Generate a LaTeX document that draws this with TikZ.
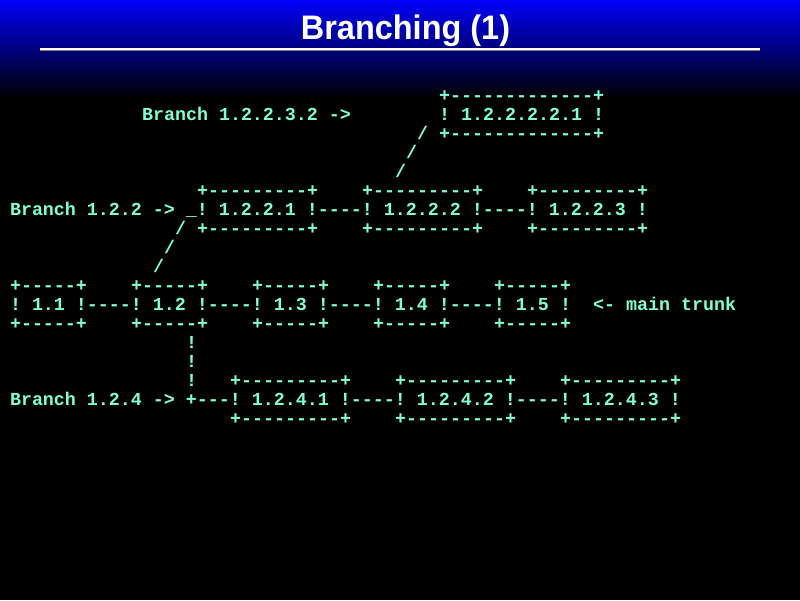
\documentclass[tikz,border=0pt]{standalone}
\usepackage{fontspec}
\setmonofont{Liberation Mono}
\newfontfamily\titlefont{Liberation Sans}
\definecolor{ascfg}{RGB}{127,255,212}
\definecolor{topblue}{RGB}{0,0,250}
\newcommand\ascseg[4]{\node[ascii] (#1) at ({10+11*#3},{-101-19*#2}) {#4};}
\begin{document}
\begin{tikzpicture}[x=1pt,y=1pt,
  ascii/.style={anchor=base west, inner sep=0pt, outer sep=0pt, text=ascfg,
    font=\ttfamily\bfseries\fontsize{18.333pt}{19pt}\selectfont}]
\useasboundingbox (0,0) rectangle (800,-600);
\fill[black] (0,0) rectangle (800,-600);
\shade[top color=topblue, bottom color=black] (0,0) rectangle (800,-98);
\node[text=white, inner sep=0pt, anchor=base,
  font=\titlefont\bfseries\fontsize{34pt}{34pt}\selectfont] (title) at (405.5,-39.5)
  {\scalebox{0.955}[1]{Branching (1)}};
\coordinate (ruleL) at (40,-49);
\coordinate (ruleR) at (760,-49);
\draw[white, line width=1.2pt] (ruleL) -- (ruleR);
\draw[gray, line width=0.8pt] ([yshift=-1.2pt]ruleL) -- ([yshift=-1.2pt]ruleR);
% row 0-4
\ascseg{a0}{0}{39}{+-------------+}
\ascseg{b1}{1}{12}{Branch 1.2.2.3.2 ->}
\ascseg{a1}{1}{39}{! 1.2.2.2.2.1 !}
\ascseg{s2}{2}{37}{/}
\ascseg{a2}{2}{39}{+-------------+}
\ascseg{s3}{3}{36}{/}
\ascseg{s4}{4}{35}{/}
% rows 5-9
\ascseg{c5a}{5}{17}{+---------+}
\ascseg{c5b}{5}{32}{+---------+}
\ascseg{c5c}{5}{47}{+---------+}
\ascseg{r6}{6}{0}{Branch 1.2.2 -> \_! 1.2.2.1 !----! 1.2.2.2 !----! 1.2.2.3 !}
\ascseg{s7}{7}{15}{/}
\ascseg{c7a}{7}{17}{+---------+}
\ascseg{c7b}{7}{32}{+---------+}
\ascseg{c7c}{7}{47}{+---------+}
\ascseg{s8}{8}{14}{/}
\ascseg{s9}{9}{13}{/}
% rows 10-12 main trunk
\ascseg{m10a}{10}{0}{+-----+}
\ascseg{m10b}{10}{11}{+-----+}
\ascseg{m10c}{10}{22}{+-----+}
\ascseg{m10d}{10}{33}{+-----+}
\ascseg{m10e}{10}{44}{+-----+}
\ascseg{r11}{11}{0}{! 1.1 !----! 1.2 !----! 1.3 !----! 1.4 !----! 1.5 !}
\ascseg{mt}{11}{53}{<- main trunk}
\ascseg{m12a}{12}{0}{+-----+}
\ascseg{m12b}{12}{11}{+-----+}
\ascseg{m12c}{12}{22}{+-----+}
\ascseg{m12d}{12}{33}{+-----+}
\ascseg{m12e}{12}{44}{+-----+}
% rows 13-17
\ascseg{v13}{13}{16}{!}
\ascseg{v14}{14}{16}{!}
\ascseg{v15}{15}{16}{!}
\ascseg{d15a}{15}{20}{+---------+}
\ascseg{d15b}{15}{35}{+---------+}
\ascseg{d15c}{15}{50}{+---------+}
\ascseg{r16}{16}{0}{Branch 1.2.4 -> +---! 1.2.4.1 !----! 1.2.4.2 !----! 1.2.4.3 !}
\ascseg{d17a}{17}{20}{+---------+}
\ascseg{d17b}{17}{35}{+---------+}
\ascseg{d17c}{17}{50}{+---------+}
\end{tikzpicture}
\end{document}
